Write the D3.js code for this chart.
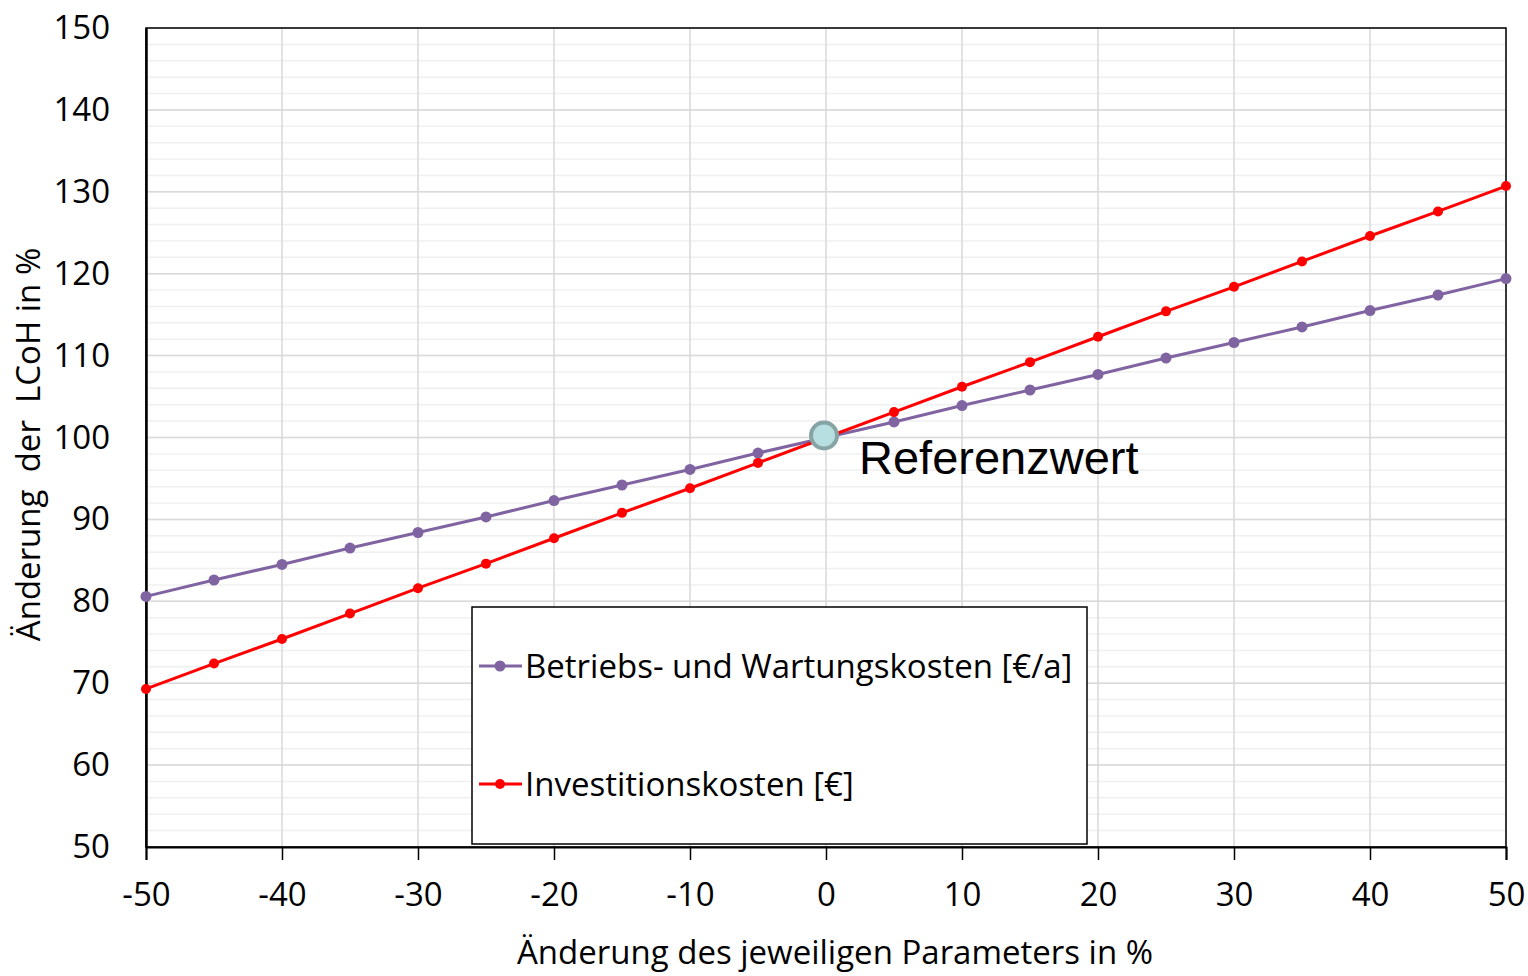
<!DOCTYPE html>
<html>
<head>
<meta charset="utf-8">
<script src="https://cdn.jsdelivr.net/npm/d3@7"></script>
<style>
  body { margin: 0; background: #fff; }
</style>
</head>
<body>
<div id="chart"></div>
<script>
// parameter change in %
var changes = [-50, -45, -40, -35, -30, -25, -20, -15, -10, -5, 0, 5, 10, 15, 20, 25, 30, 35, 40, 45, 50];
// LCOH change in % for each parameter
var betriebsValues = [80.6, 82.6, 84.5, 86.5, 88.4, 90.3, 92.3, 94.2, 96.1, 98.1, 100, 101.9, 103.9, 105.8, 107.7, 109.7, 111.6, 113.5, 115.5, 117.4, 119.4];
var investValues = [69.3, 72.4, 75.4, 78.5, 81.6, 84.6, 87.7, 90.8, 93.8, 96.9, 100, 103.1, 106.2, 109.2, 112.3, 115.4, 118.4, 121.5, 124.6, 127.6, 130.7];
var seriesNames = ["Betriebs- und Wartungskosten [€/a]", "Investitionskosten [€]"];
var xTicks = [-50, -40, -30, -20, -10, 0, 10, 20, 30, 40, 50];
var yTicks = [50, 60, 70, 80, 90, 100, 110, 120, 130, 140, 150];
var yMinor = d3.range(50, 151, 2);
var refPoint = [0, 100];

var width = 1528, height = 976;
var margin = { top: 28, right: 22, bottom: 129, left: 146 };
var innerW = width - margin.left - margin.right;
var innerH = height - margin.top - margin.bottom;
var tickFont = "'Open Sans', Lato, sans-serif";
var fontSize = "33px";

var svg = d3.select("#chart")
    .append("svg")
    .attr("width", width)
    .attr("height", height)
    .append("g")
    .attr("transform", "translate(" + margin.left + "," + margin.top + ")");

var x = d3.scaleLinear().domain([-50, 50]).range([0, innerW]);
var y = d3.scaleLinear().domain([50, 150]).range([innerH, 0]);

// minor horizontal grid
svg.append("g")
    .selectAll("line")
    .data(yMinor)
    .enter().append("line")
    .attr("x1", 0).attr("x2", innerW)
    .attr("y1", function (d) { return y(d); })
    .attr("y2", function (d) { return y(d); })
    .style("stroke", "#f0f0f0")
    .style("stroke-width", "1.5px");

// major horizontal grid
svg.append("g")
    .selectAll("line")
    .data(yTicks)
    .enter().append("line")
    .attr("x1", 0).attr("x2", innerW)
    .attr("y1", function (d) { return y(d); })
    .attr("y2", function (d) { return y(d); })
    .style("stroke", "#d9d9d9")
    .style("stroke-width", "1.5px");

// vertical grid
svg.append("g")
    .selectAll("line")
    .data(xTicks)
    .enter().append("line")
    .attr("y1", 0).attr("y2", innerH)
    .attr("x1", function (d) { return x(d); })
    .attr("x2", function (d) { return x(d); })
    .style("stroke", "#d9d9d9")
    .style("stroke-width", "1.5px");

// plot frame
svg.append("rect")
    .attr("x", 0).attr("y", 0)
    .attr("width", innerW).attr("height", innerH)
    .style("fill", "none")
    .style("stroke", "#000")
    .style("stroke-width", "1.5px");

// X axis
svg.append("g")
    .attr("transform", "translate(0," + innerH + ")")
    .call(d3.axisBottom(x).tickValues(xTicks).tickSize(13).tickPadding(23)
        .tickFormat(function (d) { return String(d); }))
    .call(function (g) { g.select(".domain").style("stroke", "#000").style("stroke-width", "2px"); })
    .call(function (g) { g.selectAll(".tick line").style("stroke", "#000").style("stroke-width", "1.5px"); })
    .call(function (g) {
        g.selectAll("text")
            .style("font-family", tickFont)
            .style("font-size", fontSize)
            .style("fill", "#000");
    });

// Y axis
svg.append("g")
    .call(d3.axisLeft(y).tickValues(yTicks).tickSize(0).tickPadding(36)
        .tickFormat(function (d) { return String(d); }))
    .call(function (g) { g.select(".domain").style("stroke", "#000").style("stroke-width", "2.5px"); })
    .call(function (g) {
        g.selectAll("text")
            .style("font-family", tickFont)
            .style("font-size", fontSize)
            .style("fill", "#000");
    });

// axis titles
svg.append("text")
    .attr("x", x(0) + 9)
    .attr("y", innerH + 117)
    .style("text-anchor", "middle")
    .style("font-family", tickFont)
    .style("font-size", fontSize)
    .style("fill", "#000")
    .text("Änderung des jeweiligen Parameters in %");

svg.append("text")
    .attr("transform", "rotate(-90)")
    .attr("x", -(y(100) + 7))
    .attr("y", -margin.left + 40)
    .style("text-anchor", "middle")
    .style("white-space", "pre")
    .style("font-family", tickFont)
    .style("font-size", fontSize)
    .style("fill", "#000")
    .text("Änderung  der  LCoH in %");

// lines
var series = [
    { name: seriesNames[0], values: betriebsValues, color: "#8064A2", r: 5.5 },
    { name: seriesNames[1], values: investValues, color: "#FF0000", r: 5 }
];

var line = d3.line()
    .x(function (d) { return x(d[0]); })
    .y(function (d) { return y(d[1]); });

series.forEach(function (s) {
    var pts = changes.map(function (c, i) { return [c, s.values[i]]; });
    svg.append("path")
        .datum(pts)
        .style("fill", "none")
        .style("stroke", s.color)
        .style("stroke-width", "3px")
        .attr("d", line);
    svg.append("g")
        .selectAll("circle")
        .data(pts.filter(function (d) { return d[0] !== 0; }))
        .enter().append("circle")
        .attr("cx", function (d) { return x(d[0]); })
        .attr("cy", function (d) { return y(d[1]); })
        .attr("r", s.r)
        .style("fill", s.color);
});

// reference marker
svg.append("circle")
    .attr("cx", x(refPoint[0]) - 2)
    .attr("cy", y(refPoint[1]) - 2)
    .attr("r", 13)
    .style("fill", "#B7DEE1")
    .style("stroke", "#86A4A4")
    .style("stroke-width", "4px");

svg.append("text")
    .attr("x", x(refPoint[0]) + 33)
    .attr("y", y(refPoint[1]) + 36)
    .style("font-family", "'Liberation Sans', Arial, sans-serif")
    .style("font-size", "47px")
    .style("fill", "#000")
    .text("Referenzwert");

// legend
var legend = svg.append("g")
    .attr("transform", "translate(" + (472 - margin.left) + "," + (607 - margin.top) + ")");

legend.append("rect")
    .attr("width", 615)
    .attr("height", 237)
    .style("fill", "#fff")
    .style("stroke", "#000")
    .style("stroke-width", "1.5px");

series.forEach(function (s, i) {
    var ly = 59 + i * 118;
    legend.append("line")
        .attr("x1", 7).attr("x2", 50)
        .attr("y1", ly).attr("y2", ly)
        .style("stroke", s.color)
        .style("stroke-width", "3px");
    legend.append("circle")
        .attr("cx", 28).attr("cy", ly)
        .attr("r", s.r)
        .style("fill", s.color);
    legend.append("text")
        .attr("x", 53)
        .attr("y", ly)
        .attr("dy", "0.35em")
        .style("font-family", tickFont)
        .style("font-size", fontSize)
        .style("fill", "#000")
        .text(s.name);
});
</script>
</body>
</html>
